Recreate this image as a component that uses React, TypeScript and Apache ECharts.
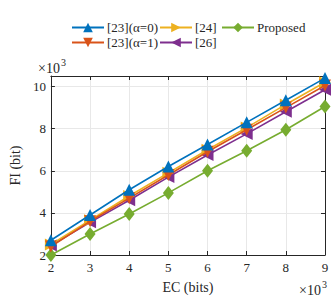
import React, { useEffect, useRef } from "react";
import * as echarts from "echarts";

const ecValues = [2, 3, 4, 5, 6, 7, 8, 9];
const seriesNames = ["[23](α=0)", "[23](α=1)", "[24]", "[26]", "Proposed"];
const ref23a0 = [2.7, 3.9, 5.1, 6.2, 7.25, 8.3, 9.35, 10.4];
const ref23a1 = [2.4, 3.6, 4.7, 5.8, 6.9, 7.95, 9.0, 10.05];
const ref24 = [2.5, 3.65, 4.8, 5.9, 7.0, 8.05, 9.15, 10.2];
const ref26 = [2.45, 3.55, 4.6, 5.7, 6.75, 7.75, 8.8, 9.85];
const proposed = [2.0, 3.0, 3.95, 4.95, 6.0, 6.95, 7.95, 9.05];
const yTicks = [2, 4, 6, 8, 10];

const colors = ["#0072BD", "#D95319", "#EDB120", "#7E2F8E", "#77AC30"];
const symbols = ["triangle", "triangle", "triangle", "triangle", "diamond"];
const rotations = [0, 180, -90, 90, 0];
const sizes: any[] = [12, 12, 12, 12, [11, 14]];
const FONT = "'Liberation Serif', 'DejaVu Serif', serif";

export default function App() {
  const ref = useRef<HTMLDivElement>(null);
  useEffect(() => {
    if (!ref.current) return;
    const chart = echarts.init(ref.current, undefined, { renderer: "svg" });
    const allData = [ref23a0, ref23a1, ref24, ref26, proposed];
    const series = allData.map((d, i) => ({
      name: seriesNames[i],
      type: "line",
      data: ecValues.map((x, j) => [x, d[j]]),
      symbol: symbols[i],
      symbolSize: sizes[i],
      symbolRotate: rotations[i],
      showSymbol: true,
      lineStyle: { color: colors[i], width: 1.6 },
      itemStyle: { color: colors[i] },
      z: 10 - i,
    }));
    const legendBase = {
      orient: "vertical",
      top: 16,
      itemWidth: 32,
      itemHeight: 12,
      itemGap: 2,
      symbolRotate: "inherit",
      textStyle: { fontFamily: FONT, fontSize: 13, color: "#262626", padding: [0, 0, 0, -2] },
    };
    const mult = (left: number, top: number) => [
      { left, top, text: "×10", textStyle: { fontFamily: FONT, fontSize: 14, fontWeight: "normal", color: "#262626" }, padding: 0 },
      { left: left + 23, top: top - 4, text: "3", textStyle: { fontFamily: FONT, fontSize: 10, fontWeight: "normal", color: "#262626" }, padding: 0 },
    ];
    chart.setOption({
      animation: false,
      textStyle: { fontFamily: FONT },
      title: [...mult(38, 61), ...mult(299, 283)],
      legend: [
        { ...legendBase, left: 66, data: [seriesNames[0], seriesNames[1]] },
        { ...legendBase, left: 154, data: [seriesNames[2], seriesNames[3]] },
        { ...legendBase, left: 216, data: [seriesNames[4]] },
      ],
      grid: { left: 38, right: 7, top: 76, bottom: 40, containLabel: false },
      xAxis: [
        {
          type: "value",
          min: 2,
          max: 9,
          interval: 1,
          name: "EC (bits)",
          nameLocation: "middle",
          nameGap: 25,
          nameTextStyle: { fontFamily: FONT, fontSize: 14, color: "#262626" },
          axisLine: { lineStyle: { color: "#262626", width: 1 } },
          axisTick: { inside: true, length: 4, lineStyle: { color: "#262626" } },
          axisLabel: { fontFamily: FONT, fontSize: 13, color: "#262626", margin: 6 },
          splitLine: { show: true, lineStyle: { color: "#e8e8e8", width: 1 } },
        },
        {
          type: "value",
          position: "top",
          min: 2,
          max: 9,
          interval: 1,
          axisLine: { show: true, lineStyle: { color: "#262626", width: 1 } },
          axisTick: { show: true, inside: true, length: 4, lineStyle: { color: "#262626" } },
          axisLabel: { show: false },
          splitLine: { show: false },
        },
      ],
      yAxis: [
        {
          type: "value",
          min: 2,
          max: 10.5,
          interval: 2,
          name: "FI (bit)",
          nameLocation: "middle",
          nameGap: 22,
          nameTextStyle: { fontFamily: FONT, fontSize: 14, color: "#262626" },
          axisLine: { show: true, lineStyle: { color: "#262626", width: 1 } },
          axisTick: { show: true, inside: true, length: 4, lineStyle: { color: "#262626" } },
          axisLabel: {
            fontFamily: FONT,
            fontSize: 13,
            color: "#262626",
            margin: 5,
            formatter: (v: number) => (yTicks.includes(v) ? String(v) : ""),
          },
          splitLine: { show: true, lineStyle: { color: "#e8e8e8", width: 1 } },
        },
        {
          type: "value",
          position: "right",
          min: 2,
          max: 10.5,
          interval: 2,
          axisLine: { show: true, lineStyle: { color: "#262626", width: 1 } },
          axisTick: { show: true, inside: true, length: 4, lineStyle: { color: "#262626" } },
          axisLabel: { show: false },
          splitLine: { show: false },
        },
      ],
      series,
    });
    return () => chart.dispose();
  }, []);
  return <div ref={ref} style={{ width: 332, height: 299, position: "absolute", left: 0, top: 0, background: "#fff" }} />;
}
